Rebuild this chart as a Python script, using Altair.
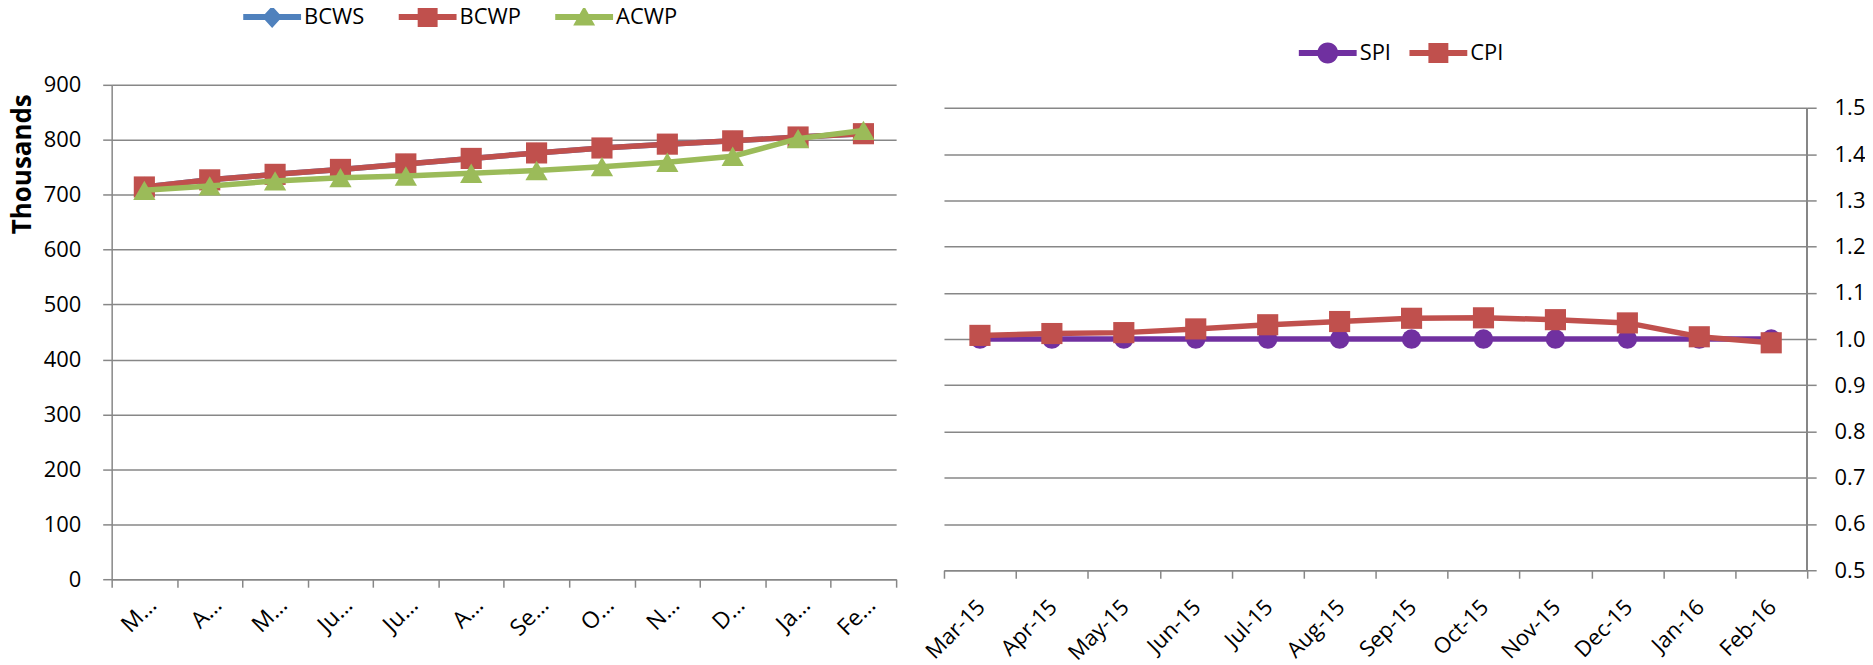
import altair as alt
import pandas as pd

# ---------------- data ----------------
months = ["Mar-15", "Apr-15", "May-15", "Jun-15", "Jul-15", "Aug-15",
          "Sep-15", "Oct-15", "Nov-15", "Dec-15", "Jan-16", "Feb-16"]
short_labels = ["M…", "A…", "M…", "Ju…", "Ju…", "A…",
                "Se…", "O…", "N…", "D…", "Ja…", "Fe…"]

bcws = [714, 727, 737, 746, 756, 766, 776, 785, 792, 798, 805, 811]
bcwp = [714, 727, 737, 746, 756, 766, 776, 785, 792, 798, 805, 811]
acwp = [708, 716, 725, 731, 734, 739, 744, 751, 759, 770, 802, 817]

spi = [1.00, 1.00, 1.00, 1.00, 1.00, 1.00, 1.00, 1.00, 1.00, 1.00, 1.00, 1.00]
cpi = [1.008, 1.012, 1.014, 1.022, 1.031, 1.038, 1.045, 1.046, 1.042, 1.035, 1.005, 0.992]

left_ticks = [0, 100, 200, 300, 400, 500, 600, 700, 800, 900]
right_ticks = [0.5, 0.6, 0.7, 0.8, 0.9, 1.0, 1.1, 1.2, 1.3, 1.4, 1.5]

left_series = ["BCWS", "BCWP", "ACWP"]
left_colors = ["#4F81BD", "#C0504D", "#9BBB59"]
left_shapes = ["diamond", "square", "triangle-up"]
right_series = ["SPI", "CPI"]
right_colors = ["#7030A0", "#C0504D"]
right_shapes = ["circle", "square"]

FONT = "Open Sans"
GRID = "#878787"
FS = 22

# legend symbols: a line segment with the series marker in its middle
# (unit = 10 px, symbol box is -1..1, line runs -1..4.8, marker centred at 1.9)
LINE = "M-1,-0.3H4.8V0.3H-1Z"
DIAMOND = "M1.9,-1.1L2.9,0L1.9,1.1L0.9,0Z"
SQUARE = "M0.9,-1H2.9V1H0.9Z"
TRIANGLE = "M1.9,-1.1L3,0.85H0.8Z"
CIRCLE = "M0.85,0A1.05,1.05,0,1,1,2.95,0A1.05,1.05,0,1,1,0.85,0Z"
left_legend_paths = [LINE + DIAMOND, LINE + SQUARE, LINE + TRIANGLE]
right_legend_paths = [LINE + CIRCLE, LINE + SQUARE]

left_df = pd.DataFrame({
    "month": months * 3,
    "series": ["BCWS"] * 12 + ["BCWP"] * 12 + ["ACWP"] * 12,
    "value": bcws + bcwp + acwp,
})
right_df = pd.DataFrame({
    "month": months * 2,
    "index": ["SPI"] * 12 + ["CPI"] * 12,
    "value": spi + cpi,
})

LEFT_W, LEFT_H = 787, 496
RIGHT_W, RIGHT_H = 866, 487


def js_list(items):
    return "[" + ",".join("'" + s + "'" for s in items) + "]"


label_expr = js_list(short_labels) + "[indexof(" + js_list(months) + ", datum.value)]"

common_axis = dict(domainColor=GRID, domainWidth=1.5, tickColor=GRID, tickWidth=1.5,
                   gridColor=GRID, gridWidth=1.5, labelColor="black", labelFont=FONT)

x_left = alt.X("month:N",
               scale=alt.Scale(type="band", domain=months, paddingInner=0, paddingOuter=0),
               axis=alt.Axis(title=None, tickBand="extent", labelAngle=-45, labelAlign="right",
                             labelBaseline="middle", labelExpr=label_expr, tickSize=8,
                             labelPadding=14, labelOffset=8, labelFontSize=23, grid=False,
                             **common_axis))
y_left = alt.Y("value:Q",
               scale=alt.Scale(domain=[0, 900], nice=False, zero=True),
               axis=alt.Axis(values=left_ticks, title="Thousands", titleFontWeight="bold",
                             titleFontSize=26, titleFont=FONT, titleColor="black", titlePadding=8,
                             titleAnchor="end", titleAlign="right", titleY=9,
                             grid=True, tickSize=9, labelPadding=22, labelFontSize=FS,
                             **common_axis))

x_right = alt.X("month:N",
                scale=alt.Scale(type="band", domain=months, paddingInner=0, paddingOuter=0),
                axis=alt.Axis(title=None, tickBand="extent", labelAngle=-45, labelAlign="right",
                              labelBaseline="middle", tickSize=8, labelPadding=25, labelOffset=1,
                              labelFontSize=FS, grid=False, **common_axis))
y_right = alt.Y("value:Q",
                scale=alt.Scale(domain=[0.5, 1.55], nice=False, zero=False),
                axis=alt.Axis(orient="right", values=right_ticks, format=".1f", title=None,
                              domain=False, grid=True, tickSize=9, labelPadding=18,
                              labelFontSize=FS, **common_axis))


def make_legend(x, y, col_pad):
    return alt.Legend(title=None, orient="none", legendX=x, legendY=y, direction="horizontal",
                      symbolSize=400, symbolStrokeWidth=0, labelFont=FONT, labelFontSize=FS,
                      labelColor="black", labelOffset=40, columnPadding=col_pad, padding=0)


def series_layers(df, field, name, color, shape, size, x, y):
    base = alt.Chart(df).transform_filter(alt.datum[field] == name)
    line = base.mark_line(color=color, strokeWidth=5.5).encode(x=x, y=y)
    pts = base.mark_point(color=color, shape=shape, filled=True, size=size,
                          opacity=1, strokeWidth=0).encode(x=x, y=y)
    return [line, pts]


SIZES = {"diamond": 420, "square": 450, "triangle-up": 500, "circle": 380}
NO_VIEW = alt.ViewBackground(stroke="transparent", strokeWidth=0)

# ---------------- left chart ----------------
left_layers = []
for s, c, sh in zip(left_series, left_colors, left_shapes):
    left_layers += series_layers(left_df, "series", s, c, sh, SIZES[sh], x_left, y_left)

left_leg = make_legend(131, -79, 33)
left_phantom = alt.Chart(left_df).transform_filter("false").mark_point(
    filled=True, size=400, opacity=1).encode(
    x=x_left, y=y_left,
    color=alt.Color("series:N", scale=alt.Scale(domain=left_series, range=left_colors), legend=left_leg),
    shape=alt.Shape("series:N", scale=alt.Scale(domain=left_series, range=left_legend_paths), legend=left_leg),
)
left = alt.layer(*left_layers, left_phantom).properties(width=LEFT_W, height=LEFT_H, view=NO_VIEW)

# ---------------- right chart ----------------
right_layers = []
for s, c, sh in zip(right_series, right_colors, right_shapes):
    right_layers += series_layers(right_df, "index", s, c, sh, SIZES[sh], x_right, y_right)

axis_line = alt.Chart(right_df).mark_rule(color=GRID, strokeWidth=1.5).encode(
    x=alt.value("width"), y=alt.datum(right_ticks[0]), y2=alt.datum(right_ticks[-1]))

right_leg = make_legend(355, -43, 17)
right_phantom = alt.Chart(right_df).transform_filter("false").mark_point(
    filled=True, size=400, opacity=1).encode(
    x=x_right, y=y_right,
    color=alt.Color("index:N", scale=alt.Scale(domain=right_series, range=right_colors), legend=right_leg),
    shape=alt.Shape("index:N", scale=alt.Scale(domain=right_series, range=right_legend_paths), legend=right_leg),
)
right = alt.layer(axis_line, *right_layers, right_phantom).properties(
    width=RIGHT_W, height=RIGHT_H, view=NO_VIEW)

chart = alt.hconcat(left, right, spacing=48, bounds="flush").resolve_scale(
    color="independent", shape="independent", x="independent", y="independent"
).resolve_legend(color="independent", shape="independent").properties(
    padding={"left": 1, "top": -3, "right": 0, "bottom": 0}
).configure_view(stroke="transparent", strokeWidth=0).configure(background="white", font=FONT)

chart.save("out.html", embed_options={"renderer": "svg", "actions": False})
